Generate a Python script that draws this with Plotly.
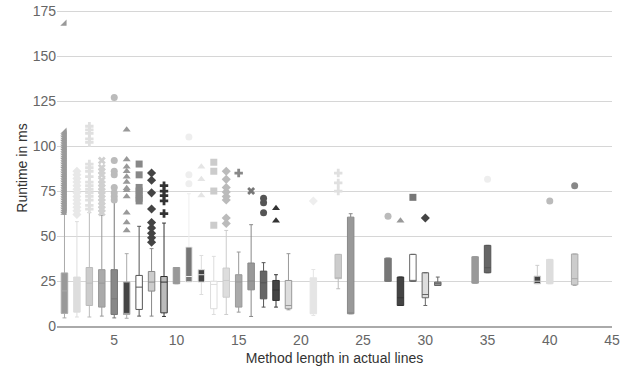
import plotly.graph_objects as go

# ---- data ----
positions = [1, 2, 3, 4, 5, 6, 7, 8, 9, 10, 11, 12, 13, 14, 15, 16, 17, 18, 19,
             21, 23, 24, 27, 28, 29, 30, 31, 34, 35, 39, 40, 42]
lower = [4.5, 5, 5, 5.5, 4.5, 4.3, 5.5, 5.5, 5.3, 23.5, 24.4, 17.5, 6.4, 6.4, 7.7, 5.3, 10.5, 10.5, 9,
         5.8, 20.7, 6.8, 24.8, 11.4, 24.8, 11.4, 22.5, 23.8, 29.6, 23.5, 23.5, 22.5]
q1 = [7, 7.7, 11.4, 10.5, 6.4, 6.4, 9.2, 19.4, 7.3, 23.5, 24.4, 24.4, 9.6, 16, 10.5, 20.1, 15.1, 14.2, 9.6,
      6.8, 26.3, 6.8, 24.8, 11.4, 24.8, 15.7, 22.5, 23.8, 29.6, 23.5, 23.5, 22.9]
median = [19.5, 23, 23.8, 23.8, 15.1, 7, 21.6, 24.4, 24.4, 24, 27.5, 28.5, 23.1, 25.3, 24.5, 25, 24, 20, 11.4,
          7, 26.6, 7, 25, 15.7, 25, 17.5, 23.5, 24, 32.4, 24.9, 24, 26.3]
q3 = [29.5, 27.2, 32.5, 31.3, 31.3, 24.4, 28.1, 30.3, 27.5, 32.5, 43.9, 31.3, 24.9, 32.2, 28.5, 35, 30.5, 25.3, 25.3,
      26.8, 39.8, 60.5, 37.7, 27.2, 39.8, 29.6, 24.4, 38.5, 44.8, 27.7, 37, 40]
upper = [62, 58, 63, 61.5, 69, 40.2, 55.4, 43, 57.2, 32.5, 73.5, 39.2, 38.7, 53.1, 41.1, 56.3, 35.2, 28.5, 40.2,
         31.4, 39.8, 62.4, 37.7, 27.2, 39.8, 29.6, 27.2, 38.5, 44.8, 33.7, 37, 40]
outliers = [
    [63, 64, 65, 66, 67, 68, 69, 70, 71, 72, 73, 74, 75, 76, 77, 78, 79, 80, 81, 82, 83, 84, 85, 86, 87,
     88, 89, 90, 91, 92, 93, 94, 95, 96, 97, 98, 99, 100, 101, 102, 103, 104, 105, 106, 107, 108, 168],
    [62, 64, 66, 68, 70, 72, 74, 76, 78, 80, 82, 84, 86],
    [65, 67, 70, 72, 74, 76, 78, 80, 83, 86, 88, 90, 102, 104, 107, 109, 111],
    [63, 65, 67, 69, 71, 73, 75, 77, 79, 81, 84, 86, 88, 92],
    [70, 72, 74, 77, 84, 86, 92, 127],
    [53, 57.5, 63, 72, 75.5, 76.5, 80, 83, 86, 88.5, 92.5, 109],
    [69.5, 71, 73, 75, 77, 84, 90],
    [46.5, 49, 51.5, 54.5, 57.5, 65, 74, 81, 85],
    [62.5, 69.5, 72.5, 75, 78],
    [],
    [79, 84, 105],
    [72.5, 81.5, 88.5],
    [56, 75, 86, 91],
    [57, 60, 70, 72, 74.5, 77, 81.5, 86],
    [85],
    [75],
    [63, 68.5, 71],
    [58.5, 65.5],
    [],
    [69.5],
    [75, 79.5, 85],
    [],
    [61],
    [58.5],
    [71.5],
    [60],
    [],
    [],
    [81.5],
    [],
    [69.5],
    [78],
]

# ---- styles ----
fills = ["#999", "#ddd", "#ccc", "#aaa", "#888", "#444", "#fff", "#ccc", "#bbb", "#999", "#777", "#444",
         "#fff", "#ddd", "#aaa", "#999", "#666", "#444", "#ddd", "#e5e5e5", "#ccc", "#999", "#777", "#444",
         "#fff", "#ddd", "#999", "#999", "#666", "#444", "#ddd", "#ccc"]
lines = ["#aaa", "#ddd", "#bbb", "#999", "#777", "#aaa", "#555", "#888", "#333", "#999", "#eee", "#ddd",
         "#ddd", "#ccc", "#999", "#888", "#555", "#333", "#999", "#e5e5e5", "#bbb", "#888", "#777", "#333",
         "#666", "#666", "#666", "#999", "#555", "#ccc", "#ddd", "#aaa"]
out_colors = ["#999", "#e8e8e8", "#e0e0e0", "#d0d0d0", "#bbb", "#999", "#888", "#444", "#333", "#999", "#eee",
              "#e5e5e5", "#ccc", "#bbb", "#888", "#777", "#555", "#333", "#999", "#eee", "#e0e0e0", "#888",
              "#bbb", "#999", "#777", "#444", "#999", "#999", "#eee", "#444", "#bbb", "#888"]
symbols = ["triangle-se", "diamond", "cross", "x", "circle", "triangle-up", "square", "diamond", "cross", "circle",
           "circle", "triangle-up", "square", "diamond", "cross", "x", "circle", "triangle-up", "square",
           "diamond", "cross", "x", "circle", "triangle-up", "square", "diamond", "cross", "x", "circle",
           "triangle-up", "circle", "circle"]

fig = go.Figure()
for i, p in enumerate(positions):
    fig.add_trace(go.Box(
        x=[p], q1=[q1[i]], median=[median[i]], q3=[q3[i]],
        lowerfence=[lower[i]], upperfence=[upper[i]],
        width=0.52, whiskerwidth=0.6, boxpoints=False,
        fillcolor=fills[i], line=dict(color=lines[i], width=1),
        showlegend=False, hoverinfo="skip",
    ))
for i, p in enumerate(positions):
    if outliers[i]:
        fig.add_trace(go.Scatter(
            x=[p] * len(outliers[i]), y=outliers[i], mode="markers",
            marker=dict(symbol=symbols[i], size=7, color=out_colors[i], line=dict(width=0)),
            showlegend=False, hoverinfo="skip",
        ))

fig.update_layout(
    width=628, height=370,
    margin=dict(l=57, r=16, t=10, b=44),
    plot_bgcolor="white", paper_bgcolor="white",
    font=dict(family="Liberation Sans, Arial, sans-serif", size=14, color="#666"),
    xaxis=dict(
        range=[0.4, 45], tickmode="linear", tick0=5, dtick=5, automargin=False,
        showgrid=False, zeroline=False, showline=True, linecolor="#aaa", linewidth=2,
        ticks="", tickfont=dict(size=14, color="#666"),
        title=dict(text="Method length in actual lines", font=dict(size=14, color="#333"), standoff=6),
    ),
    yaxis=dict(
        range=[0, 175.6], tickmode="linear", tick0=0, dtick=25, automargin=False,
        showgrid=True, gridcolor="#d6d6d6", gridwidth=1, zeroline=False, showline=False,
        ticks="", tickfont=dict(size=14, color="#666"), ticklabeloverflow="allow",
        title=dict(text="Runtime in ms", font=dict(size=14, color="#333"), standoff=1),
    ),
)

fig.write_html("out.html", config={"displayModeBar": False},
               post_script="document.body.style.margin='0px';")
